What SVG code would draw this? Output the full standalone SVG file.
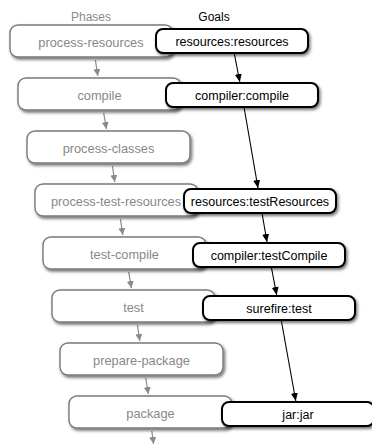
<svg xmlns="http://www.w3.org/2000/svg" width="372" height="445" viewBox="0 0 372 445">
<style>
.ph rect{fill:#fff;stroke:#7a7a7a;stroke-width:1.4;filter:url(#sh)}
.ph text{fill:#888;font-family:"Liberation Sans",Arial,sans-serif;font-size:12.8px;text-anchor:middle}
.gl rect{fill:#fff;stroke:#000;stroke-width:2;filter:url(#sh)}
.gl text{fill:#000;font-family:"Liberation Sans",Arial,sans-serif;font-size:12.5px;text-anchor:middle}
.hd{font-family:"Liberation Sans",Arial,sans-serif;font-size:12px;text-anchor:middle}
.pa{stroke:#8a8a8a;stroke-width:1.2;fill:none;marker-end:url(#ga)}
.ga{stroke:#000;stroke-width:1.1;fill:none;marker-end:url(#ba)}
</style>
<defs>
<filter id="sh" x="-10%" y="-20%" width="130%" height="160%">
<feDropShadow dx="1.5" dy="2" stdDeviation="1.5" flood-color="#000" flood-opacity="0.55"/>
</filter>
<marker id="ga" markerUnits="userSpaceOnUse" markerWidth="8" markerHeight="8" refX="7" refY="3.5" orient="auto">
<path d="M0,0 L7,3.5 L0,7 Z" fill="#8a8a8a"/>
</marker>
<marker id="ba" markerUnits="userSpaceOnUse" markerWidth="9" markerHeight="8" refX="8" refY="3.5" orient="auto">
<path d="M0,0 L8,3.5 L0,7 Z" fill="#000"/>
</marker>
</defs>
<rect width="372" height="445" fill="#fff"/>
<text class="hd" x="91" y="21" fill="#8a8a8a">Phases</text>
<text class="hd" x="214" y="21" fill="#000">Goals</text>
<g id="connectors">
<line class="pa" x1="95.4" y1="60" x2="97.8" y2="76"/>
<line class="pa" x1="103.7" y1="113" x2="106.4" y2="129"/>
<line class="pa" x1="112.4" y1="166" x2="114.8" y2="182"/>
<line class="pa" x1="120.4" y1="219" x2="122.8" y2="235"/>
<line class="pa" x1="128.7" y1="272" x2="131.4" y2="288"/>
<line class="pa" x1="137.4" y1="325" x2="139.8" y2="341"/>
<line class="pa" x1="145.7" y1="378" x2="148.4" y2="394"/>
<line class="pa" x1="151.8" y1="431" x2="153.6" y2="444"/>
<line class="ga" x1="234.2" y1="53" x2="239.8" y2="82"/>
<line class="ga" x1="244" y1="107" x2="258" y2="188"/>
<line class="ga" x1="262" y1="213" x2="267" y2="242"/>
<line class="ga" x1="271.3" y1="267" x2="276.7" y2="295"/>
<line class="ga" x1="281.2" y1="320" x2="295.8" y2="401"/>
</g>
<g id="phase-process-resources" class="ph"><rect x="10" y="25" width="163" height="32" rx="8"/><text x="91" y="46.5">process-resources</text></g>
<g id="goal-resources-resources" class="gl"><rect x="156" y="29" width="152" height="24" rx="7"/><text x="232" y="45.5">resources:resources</text></g>
<g id="phase-compile" class="ph"><rect x="18" y="78" width="163" height="32" rx="8"/><text x="99.5" y="99.5">compile</text></g>
<g id="goal-compiler-compile" class="gl"><rect x="166" y="83" width="152" height="24" rx="7"/><text x="242" y="99.5">compiler:compile</text></g>
<g id="phase-process-classes" class="ph"><rect x="27" y="131" width="163" height="32" rx="8"/><text x="108.5" y="152.5">process-classes</text></g>
<g id="phase-process-test-resources" class="ph"><rect x="35" y="184" width="163" height="32" rx="8"/><text x="116" y="205.5">process-test-resources</text></g>
<g id="goal-resources-testResources" class="gl"><rect x="184" y="189" width="152" height="24" rx="7"/><text x="260" y="205.5">resources:testResources</text></g>
<g id="phase-test-compile" class="ph"><rect x="43" y="237" width="163" height="32" rx="8"/><text x="124.5" y="258.5">test-compile</text></g>
<g id="goal-compiler-testCompile" class="gl"><rect x="193" y="243" width="152" height="24" rx="7"/><text x="269" y="259.5">compiler:testCompile</text></g>
<g id="phase-test" class="ph"><rect x="52" y="290" width="163" height="32" rx="8"/><text x="133.5" y="311.5">test</text></g>
<g id="goal-surefire-test" class="gl"><rect x="203" y="296" width="152" height="24" rx="7"/><text x="279" y="312.5">surefire:test</text></g>
<g id="phase-prepare-package" class="ph"><rect x="60" y="343" width="163" height="32" rx="8"/><text x="141.5" y="364.5">prepare-package</text></g>
<g id="phase-package" class="ph"><rect x="69" y="396" width="163" height="32" rx="8"/><text x="150.5" y="417.5">package</text></g>
<g id="goal-jar-jar" class="gl"><rect x="222" y="402" width="152" height="24" rx="7"/><text x="298" y="418.5">jar:jar</text></g>
</svg>
